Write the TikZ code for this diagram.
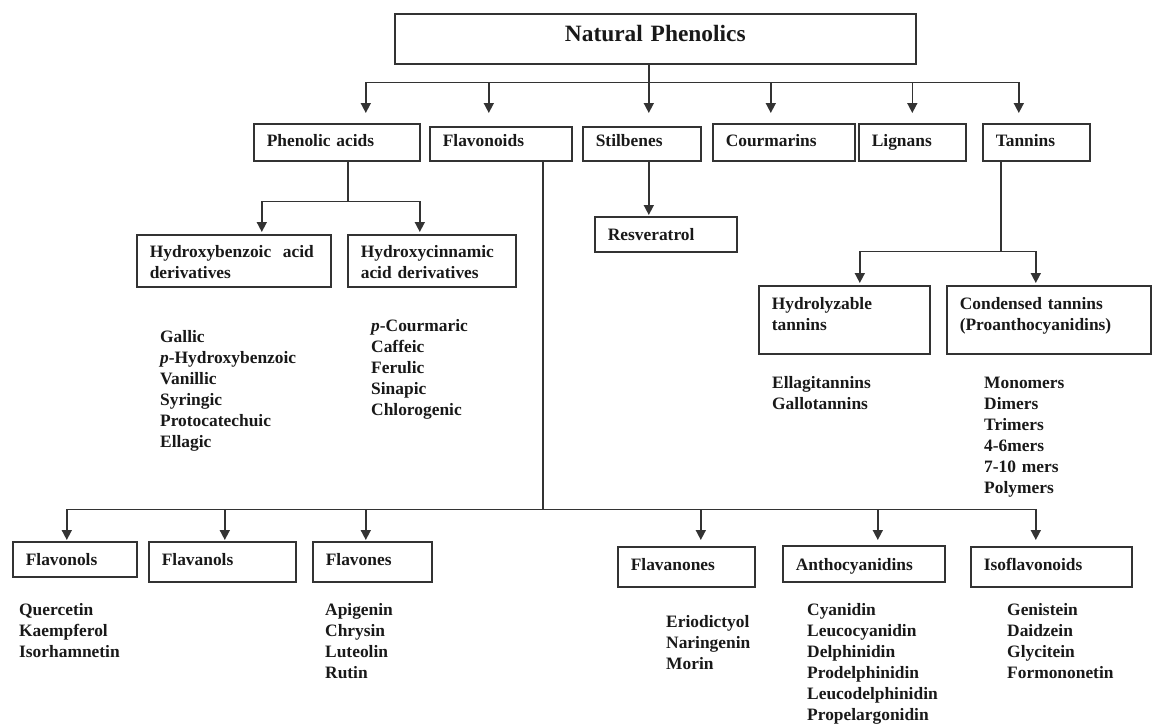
\documentclass[tikz,border=0pt]{standalone}
\usepackage{fontspec}
\setmainfont{Liberation Serif}
\usetikzlibrary{arrows.meta}
\tikzstyle{titlebox} = [rectangle, 
draw=black!80, 
line width=1.6pt,
anchor=north west,
align=center,
inner xsep=13pt,
inner ysep=0pt,
text=black!90,
font=\fontsize{23.4}{28}\selectfont\bfseries]
\tikzstyle{catbox} = [rectangle, 
draw=black!80, 
line width=1.6pt,
anchor=north west,
align=left,
inner xsep=13pt,
inner ysep=0pt,
text height=23pt,
text=black!90,
font=\fontsize{17.4}{21}\selectfont\bfseries]
\tikzstyle{items} = [anchor=base west, 
align=left, 
text width=180pt, % first line gives the baseline
inner sep=0pt, 
text=black!90,
font=\fontsize{17.4}{21}\selectfont\bfseries]
\tikzstyle{branch} = [draw=black!80, line width=1.6pt]
\tikzstyle{arrow} = [branch, -{Triangle[length=10pt,width=10pt]}]

\begin{document}
\begin{tikzpicture}[x=1pt, y=-1pt]
    \useasboundingbox (0,0) rectangle (1158,723);
    \node (natural) [titlebox, text width=495pt, text height=28pt, text depth=22pt] at (394,13) {Natural Phenolics};

    \node (phenolic) [catbox, text width=140pt, text depth=14pt] at (253,123) {Phenolic acids};
    \node (flavonoids) [catbox, text width=116pt, text height=20pt, text depth=14pt] at (429,126) {Flavonoids};
    \node (stilbenes) [catbox, text width=92pt, text height=20pt, text depth=14pt] at (582,126) {Stilbenes};
    \node (courmarins) [catbox, text width=116pt, text depth=14pt] at (712,123) {Courmarins};
    \node (lignans) [catbox, text width=81pt, text depth=14pt] at (858,123) {Lignans};
    \node (tannins) [catbox, text width=81pt, text depth=14pt] at (982,123) {Tannins};

    \node (hbenzoic) [catbox, text width=168pt, text depth=29pt] at (136,234) {Hydroxybenzoic\ \ acid\\derivatives};
    \node (hcinnamic) [catbox, text width=142pt, text depth=29pt] at (347,234) {Hydroxycinnamic\\acid derivatives};
    \node (resveratrol) [catbox, text width=116pt, text height=24pt, text depth=11pt] at (594,216) {Resveratrol};
    \node (hydrolyzable) [catbox, text width=145pt, text height=24pt, text depth=44pt] at (758,285) {Hydrolyzable\\tannins};
    \node (condensed) [catbox, text width=178pt, text height=24pt, text depth=44pt] at (946,285) {Condensed tannins\\(Proanthocyanidins)};

    \node (benzoic_list) [items] at (160,342) {Gallic\\\textit{p}-Hydroxybenzoic\\Vanillic\\Syringic\\Protocatechuic\\Ellagic};
    \node (cinnamic_list) [items] at (371,331) {\textit{p}-Courmaric\\Caffeic\\Ferulic\\Sinapic\\Chlorogenic};
    \node (hydro_list) [items] at (772,388) {Ellagitannins\\Gallotannins};
    \node (condensed_list) [items] at (984,388) {Monomers\\Dimers\\Trimers\\4-6mers\\7-10 mers\\Polymers};

    \node (flavonols) [catbox, text width=98pt, text height=24pt, text depth=11pt] at (12,541) {Flavonols};
    \node (flavanols) [catbox, text width=121pt, text height=24pt, text depth=16pt] at (148,541) {Flavanols};
    \node (flavones) [catbox, text width=93pt, text height=24pt, text depth=16pt] at (312,541) {Flavones};
    \node (flavanones) [catbox, text width=111pt, text height=24pt, text depth=16pt] at (617,546) {Flavanones};
    \node (anthocyanidins) [catbox, text width=136pt, text height=25pt, text depth=11pt] at (782,545) {Anthocyanidins};
    \node (isoflavonoids) [catbox, text width=135pt, text height=24pt, text depth=16pt] at (970,546) {Isoflavonoids};

    \node (flavonol_list) [items] at (19,615) {Quercetin\\Kaempferol\\Isorhamnetin};
    \node (flavone_list) [items] at (325,615) {Apigenin\\Chrysin\\Luteolin\\Rutin};
    \node (flavanone_list) [items] at (666,627) {Eriodictyol\\Naringenin\\Morin};
    \node (antho_list) [items] at (807,615) {Cyanidin\\Leucocyanidin\\Delphinidin\\Prodelphinidin\\Leucodelphinidin\\Propelargonidin};
    \node (isoflavonoid_list) [items] at (1007,615) {Genistein\\Daidzein\\Glycitein\\Formononetin};

    % main classes
    \coordinate (top_bus) at ([xshift=-6.5pt,yshift=-18pt]natural.south);
    \draw [arrow, shorten >=13pt] (natural.south -| top_bus) -- ([xshift=7pt]stilbenes.north);
    \draw [arrow, shorten >=10pt] (top_bus) -| ([xshift=29pt]phenolic.north);
    \draw [arrow, shorten >=13pt] (top_bus) -| ([xshift=-12pt]flavonoids.north);
    \draw [arrow, shorten >=10pt] (top_bus) -| ([xshift=-13pt]courmarins.north);
    \draw [arrow, shorten >=10pt] (top_bus) -| (lignans.north);
    \draw [arrow, shorten >=10pt] (top_bus) -| ([xshift=-17.5pt]tannins.north);

    % phenolic acids
    \coordinate (pa_bus) at ([xshift=11pt,yshift=-40pt]phenolic.south);
    \draw [branch] ([xshift=11pt]phenolic.south) -- (pa_bus);
    \draw [arrow, shorten >=2pt] (pa_bus) -| ([xshift=28pt]hbenzoic.north);
    \draw [arrow, shorten >=2pt] (pa_bus) -| ([xshift=-12pt]hcinnamic.north);

    \draw [arrow, shorten >=1pt] ([xshift=7pt]stilbenes.south) -- ([xshift=-17pt]resveratrol.north);

    % tannins
    \coordinate (tn_bus) at ([xshift=-35.5pt,yshift=-90pt]tannins.south);
    \draw [branch] ([xshift=-35.5pt]tannins.south) -- (tn_bus);
    \draw [arrow, shorten >=2pt] (tn_bus) -| ([xshift=15.5pt]hydrolyzable.north);
    \draw [arrow, shorten >=2pt] (tn_bus) -| ([xshift=-13pt]condensed.north);

    % flavonoids
    \coordinate (fl_bus) at ([xshift=42pt,yshift=-348pt]flavonoids.south);
    \draw [branch] ([xshift=42pt]flavonoids.south) -- (fl_bus);
    \draw [arrow, shorten >=1pt] (fl_bus) -| ([xshift=-8pt]flavonols.north);
    \draw [arrow, shorten >=1pt] (fl_bus) -| ([xshift=2.5pt]flavanols.north);
    \draw [arrow, shorten >=1pt] (fl_bus) -| ([xshift=-6.5pt]flavones.north);
    \draw [arrow, shorten >=6pt] (fl_bus) -| ([xshift=14.5pt]flavanones.north);
    \draw [arrow, shorten >=5pt] (fl_bus) -| ([xshift=14pt]anthocyanidins.north);
    \draw [arrow, shorten >=6pt] (fl_bus) -| ([xshift=-15.5pt]isoflavonoids.north);

\end{tikzpicture}
\end{document}
